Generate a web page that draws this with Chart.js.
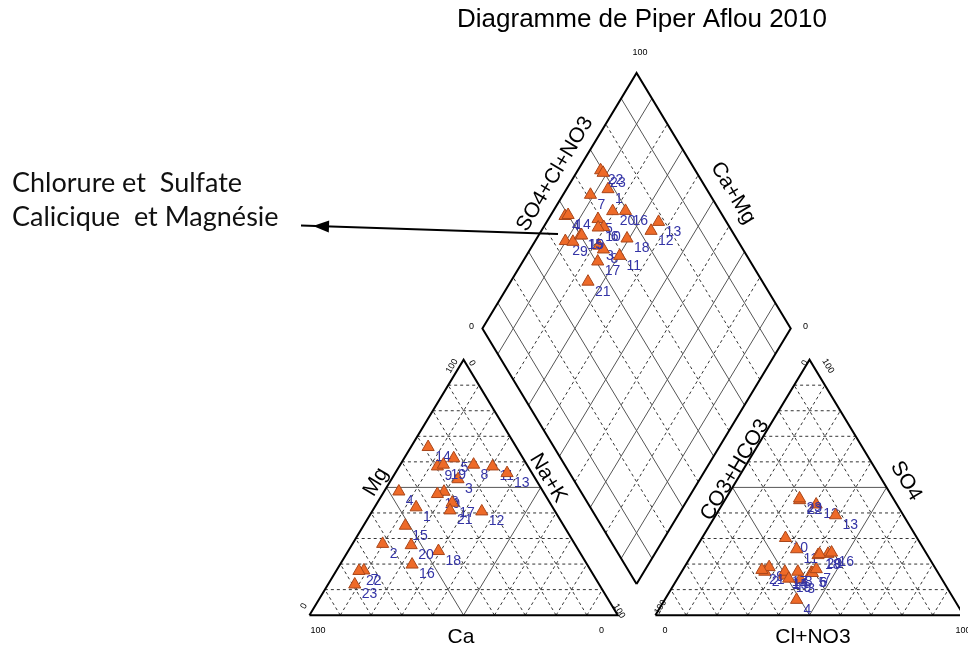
<!DOCTYPE html>
<html lang="fr">
<head>
<meta charset="utf-8">
<title>Diagramme de Piper Aflou 2010</title>
<script src="https://cdn.jsdelivr.net/npm/chart.js@4.4.1/dist/chart.umd.min.js"></script>
<style>
  html, body { margin: 0; padding: 0; background: #ffffff; }
  #box { width: 968px; height: 650px; }
  canvas { display: block; }
</style>
</head>
<body>
<div id="box"><canvas id="piper" width="968" height="650"></canvas></div>
<script>
// Aflou wells, 2010 campaign: ionic shares in % of meq/l
const sampleIds = ['1','2','3','4','5','6','7','8','9','10','11','12','13','14','15','16','17','18','19','20','21','22','23'];

// Cations
const caPct  = [44.3, 62.3, 25.2, 46.8, 22.5, 32.2, 73.6, 17.3, 29.4, 34.8, 11.5, 23.8, 8.1, 28.6, 51.4, 56.8, 31.7, 45.6, 27.1, 53.3, 33.9, 75.3, 79.3];
const mgPct  = [42.2, 27.9, 53.2, 48.4, 61.4, 48.3, 17.5, 58.9, 58.2, 47.4, 58.2, 40.6, 55.6, 65.8, 35.0, 19.8, 44.0, 25.1, 58.9, 27.4, 41.0, 17.3, 12.0];
const naKPct = [13.5, 9.8, 21.6, 4.8, 16.1, 19.5, 8.9, 23.8, 12.4, 17.8, 30.3, 35.6, 36.3, 5.6, 13.6, 23.4, 24.3, 29.3, 14.0, 19.3, 25.1, 7.4, 8.7];

// Anions
const hco3Pct  = [32.0, 56.0, 46.0, 51.2, 41.1, 40.8, 38.8, 45.3, 53.7, 42.7, 41.3, 26.2, 22.0, 50.0, 50.0, 30.6, 49.5, 35.5, 49.6, 34.8, 56.6, 30.7, 30.4];
const so4Pct   = [24.0, 17.0, 14.0, 6.0, 16.6, 16.5, 18.0, 17.0, 18.8, 30.2, 25.8, 43.3, 39.1, 16.0, 15.5, 24.5, 17.0, 23.5, 14.3, 23.9, 17.7, 45.0, 45.7];
const clNo3Pct = [44.0, 27.0, 40.0, 42.8, 42.3, 42.7, 43.2, 37.7, 27.5, 27.1, 32.9, 30.5, 38.9, 34.0, 34.5, 44.9, 33.5, 41.0, 36.1, 41.3, 25.7, 24.3, 23.9];

// Grid percentages drawn in every field
const gridSteps = [10, 20, 30, 40, 50, 60, 70, 80, 90];

// ---- Piper geometry (units: triangle side = 100 across, triangle height = 100 up) ----
const GAP = 12.2;                  // spacing between the two triangles
const RIGHT_X0 = 100 + GAP;        // left corner of the anion triangle
const DIAMOND_BX = 100 + GAP / 2;  // bottom corner of the diamond

const proj = {
  cation: (ca, mg, na) => ({ x: na + mg / 2, y: mg }),
  anion: (hco3, so4, cl) => ({ x: RIGHT_X0 + cl + so4 / 2, y: so4 }),
  // a = SO4+Cl share, c = Ca+Mg share
  diamond: (a, c) => ({ x: DIAMOND_BX + (a - c) / 2, y: GAP + a + c })
};

const BREAK = { x: NaN, y: NaN };
function addSeg(list, p, q) { list.push(p, q, BREAK); }

const dashedLines = [], solidLines = [], frameLines = [];
gridSteps.forEach(k => {
  const tri = k === 50 ? solidLines : dashedLines;
  [0, RIGHT_X0].forEach(ox => {
    addSeg(tri, { x: ox + k / 2, y: k }, { x: ox + 100 - k / 2, y: k });
    addSeg(tri, { x: ox + k, y: 0 }, { x: ox + k + (100 - k) / 2, y: 100 - k });
    addSeg(tri, { x: ox + 100 - k, y: 0 }, { x: ox + (100 - k) / 2, y: 100 - k });
  });
  const dia = (k % 20 === 10) ? solidLines : dashedLines;
  addSeg(dia, proj.diamond(k, 0), proj.diamond(k, 100));
  addSeg(dia, proj.diamond(0, k), proj.diamond(100, k));
});
[0, RIGHT_X0].forEach(ox => {
  frameLines.push({ x: ox, y: 0 }, { x: ox + 100, y: 0 }, { x: ox + 50, y: 100 }, { x: ox, y: 0 }, BREAK);
});
frameLines.push(proj.diamond(0, 0), proj.diamond(100, 0), proj.diamond(100, 100),
                proj.diamond(0, 100), proj.diamond(0, 0));

function lineSet(data, color, width, dash, order) {
  return { data, showLine: true, borderColor: color, borderWidth: width, borderDash: dash,
           pointRadius: 0, pointHoverRadius: 0, fill: false, tension: 0, spanGaps: false, order };
}

const datasets = [
  lineSet(dashedLines, '#333333', 1, [3, 3], 1003),
  lineSet(solidLines, '#555555', 1, [], 1002),
  lineSet(frameLines, '#000000', 2, [], 1001)
];

sampleIds.forEach((id, i) => {
  const a = 100 - hco3Pct[i];
  const c = 100 - naKPct[i];
  datasets.push({
    label: id,
    sampleLabel: true,
    data: [
      proj.cation(caPct[i], mgPct[i], naKPct[i]),
      proj.anion(hco3Pct[i], so4Pct[i], clNo3Pct[i]),
      proj.diamond(a, c)
    ],
    showLine: false,
    pointStyle: 'triangle',
    pointRadius: 7,
    pointHoverRadius: 7,
    backgroundColor: '#EE6A28',
    borderColor: '#A9461A',
    borderWidth: 1,
    order: 100 - i   // sample 1 first, sample 23 on top
  });
});

// Numbers written next to every marker, right after its own dataset
const pointLabels = {
  id: 'pointLabels',
  afterDatasetDraw(chart, args) {
    const ds = chart.data.datasets[args.index];
    if (!ds.sampleLabel) return;
    const ctx = chart.ctx;
    ctx.save();
    ctx.font = '14px "Liberation Sans", Arial, sans-serif';
    ctx.fillStyle = '#3434A6';
    ctx.textAlign = 'left';
    ctx.textBaseline = 'middle';
    args.meta.data.forEach(el => ctx.fillText(ds.label, el.x + 7, el.y + 10));
    ctx.restore();
  }
};

const TILT = Math.atan2(262, 156.5);

function rotText(ctx, txt, x, y, rot) {
  ctx.save();
  ctx.translate(x, y);
  ctx.rotate(rot);
  ctx.fillText(txt, 0, 0);
  ctx.restore();
}

// Axis names and corner percentages, under the markers
const axisText = {
  id: 'axisText',
  beforeDatasetsDraw(chart) {
    const ctx = chart.ctx;
    ctx.save();
    ctx.fillStyle = '#000000';
    ctx.textAlign = 'center';
    ctx.textBaseline = 'middle';
    ctx.font = '9px "Liberation Sans", Arial, sans-serif';
    [
      ['100', 318, 631, 0], ['0', 601.5, 631, 0],
      ['0', 304, 606, -TILT], ['100', 452, 366, -TILT],
      ['0', 472, 363, TILT], ['100', 619, 611, TILT],
      ['0', 665, 631, 0], ['100', 963, 631, 0],
      ['100', 660.5, 607, -TILT], ['0', 805, 363, -TILT], ['100', 828, 366, TILT],
      ['100', 640, 53, 0], ['0', 471.5, 327, 0], ['0', 805.5, 327, 0]
    ].forEach(t => rotText(ctx, t[0], t[1], t[2], t[3]));

    ctx.font = '21px "Liberation Sans", Arial, sans-serif';
    [
      ['Mg', 376, 482, -TILT], ['Na+K', 548, 478, TILT], ['Ca', 461, 637, 0],
      ['CO3+HCO3', 735, 470, -TILT], ['SO4', 906, 481, TILT], ['Cl+NO3', 813, 637, 0],
      ['SO4+Cl+NO3', 555, 174, -TILT], ['Ca+Mg', 733, 193, TILT]
    ].forEach(t => rotText(ctx, t[0], t[1], t[2], t[3]));
    ctx.restore();
  },
  afterDraw(chart) {
    const ctx = chart.ctx;
    ctx.save();
    ctx.fillStyle = '#000000';
    ctx.textBaseline = 'middle';
    ctx.textAlign = 'center';
    ctx.font = '26px "Liberation Sans", Arial, sans-serif';
    ctx.fillText('Diagramme de Piper Aflou 2010', 642, 20);

    ctx.textAlign = 'left';
    ctx.fillStyle = '#111111';
    ctx.font = '27px Lato, "Open Sans", sans-serif';
    ctx.fillText('Chlorure et  Sulfate', 12, 183);
    ctx.fillText('Calicique  et Magnésie', 12, 217);

    // pointer towards the Ca-Mg chloride / sulfate field
    const tail = { x: 558, y: 234 }, tip = { x: 313, y: 226 };
    const ang = Math.atan2(tip.y - tail.y, tip.x - tail.x);
    ctx.strokeStyle = '#000000';
    ctx.lineWidth = 2;
    ctx.beginPath();
    ctx.moveTo(tail.x, tail.y);
    ctx.lineTo(tip.x + 12 * Math.cos(ang), tip.y + 12 * Math.sin(ang));
    ctx.stroke();
    ctx.fillStyle = '#000000';
    ctx.beginPath();
    ctx.moveTo(tip.x, tip.y);
    ctx.lineTo(tip.x - 16 * Math.cos(ang) - 6 * Math.sin(ang), tip.y - 16 * Math.sin(ang) + 6 * Math.cos(ang));
    ctx.lineTo(tip.x - 16 * Math.cos(ang) + 6 * Math.sin(ang), tip.y - 16 * Math.sin(ang) - 6 * Math.cos(ang));
    ctx.closePath();
    ctx.fill();
    ctx.restore();
  }
};

new Chart(document.getElementById('piper'), {
  type: 'scatter',
  data: { datasets },
  options: {
    responsive: false,
    devicePixelRatio: 1,
    animation: false,
    events: [],
    layout: { padding: 0 },
    plugins: { legend: { display: false }, tooltip: { enabled: false }, title: { display: false } },
    scales: {
      x: { type: 'linear', display: false, min: -306.5 / 3.135, max: (968 - 306.5) / 3.135 },
      y: { type: 'linear', display: false, min: (622.5 - 650) / 2.62, max: 622.5 / 2.62 }
    }
  },
  plugins: [pointLabels, axisText]
});
</script>
</body>
</html>
